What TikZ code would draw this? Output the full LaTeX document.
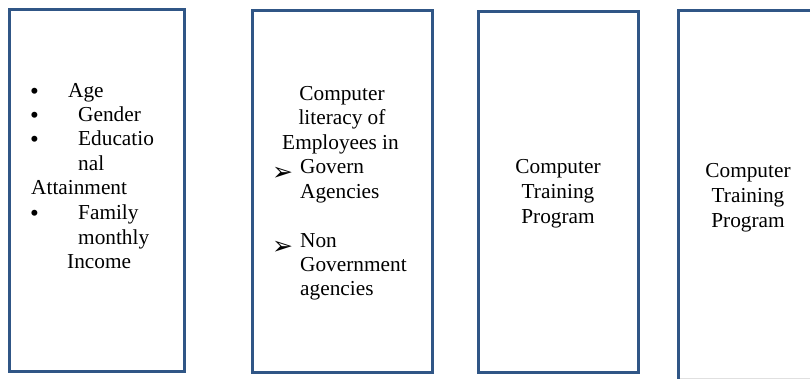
\documentclass[tikz,border=0pt]{standalone}
\usepackage{fontspec}
\setmainfont{Liberation Serif}
\newfontfamily\dingfont{DejaVu Sans}
\definecolor{frameblue}{RGB}{48,86,134}
\begin{document}
\begin{tikzpicture}[x=1pt,y=-1pt,
  panel/.style={draw=frameblue, line width=3pt, rectangle, inner sep=0pt},
  txt/.style={inner sep=0pt, anchor=base west, font=\fontsize{21.3}{24.5}\selectfont},
  ctr/.style={txt, anchor=base},
  dot/.style={inner sep=0pt, anchor=base west, font=\fontsize{25}{25}\selectfont},
  arrowmark/.style={inner sep=0pt, anchor=base west, font=\dingfont\bfseries\fontsize{25}{25}\selectfont}]
\useasboundingbox (0,0) rectangle (810,379);
\clip (0,0) rectangle (810,379);
\fill[white] (0,0) rectangle (810,379);

% the four panels
\node[panel, minimum width=175pt, minimum height=361pt] (b1) at (96.5,190.5) {};
\node[panel, minimum width=180pt, minimum height=361pt] (b2) at (342,191.5) {};
\node[panel, minimum width=160pt, minimum height=360pt] (b3) at (558,192) {};
\node[panel, minimum width=160pt, minimum height=390pt] (b4) at (758,206) {};
\draw[black!12, line width=0.8pt] (680,378) -- (810,378);

% first panel: bullet list
\node[dot] (d1) at (30,99.3) {\textbullet};
\node[txt] (t1) at (68,97.3) {Age};
\node[dot] (d2) at (30,123.7) {\textbullet};
\node[txt] (t2) at (78,121.7) {Gender};
\node[dot] (d3) at (30,148) {\textbullet};
\node[txt] (t3) at (78,146) {Educatio};
\node[txt] (t4) at (78,170.7) {nal};
\node[txt] (t5) at (31,195) {Attainment};
\node[dot] (d4) at (30,221.5) {\textbullet};
\node[txt] (t6) at (78,219.5) {Family};
\node[txt] (t7) at (78,244) {monthly};
\node[txt] (t8) at (67,268.5) {Income};

% second panel: heading and arrow list
\node[ctr] (u1) at (342,100.5) {Computer};
\node[ctr] (u2) at (342,125) {literacy of};
\node[ctr] (u3) at (340.5,149.5) {Employees in};
\node[arrowmark] (a1) at (272,180.5) {➢};
\node[txt] (u4) at (300,174) {Govern};
\node[txt] (u5) at (300,198.3) {Agencies};
\node[arrowmark] (a2) at (272,254) {➢};
\node[txt] (u6) at (300,247.5) {Non};
\node[txt] (u7) at (300,271.5) {Government};
\node[txt] (u8) at (300,295.5) {agencies};

% third panel
\node[ctr] (v1) at (558,174) {Computer};
\node[ctr] (v2) at (558,198.5) {Training};
\node[ctr] (v3) at (558,223) {Program};

% fourth panel
\node[ctr] (w1) at (748,178) {Computer};
\node[ctr] (w2) at (748,202.5) {Training};
\node[ctr] (w3) at (748,227) {Program};
\end{tikzpicture}
\end{document}
